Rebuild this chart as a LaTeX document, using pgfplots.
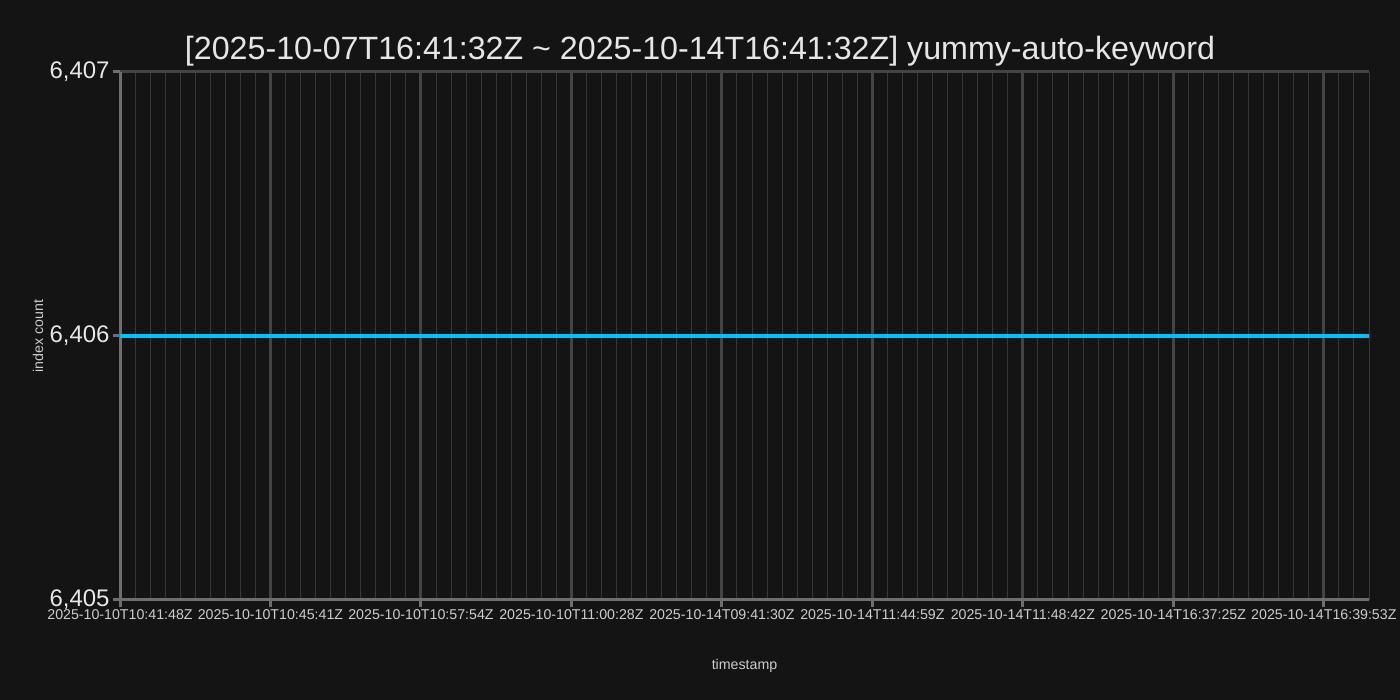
\documentclass[border=0pt]{standalone}
\usepackage{pgfplots}
\pgfplotsset{compat=1.18}
\usepackage{fontspec}
\setmainfont{Liberation Sans}
\definecolor{bg}{HTML}{141414}
\definecolor{axisgrey}{HTML}{6E6E6E}
\definecolor{majgrid}{HTML}{444444}
\definecolor{mingrid}{HTML}{383838}
\definecolor{cyanline}{HTML}{00BFFF}
\definecolor{txt}{HTML}{E6E6E6}
\definecolor{lbl}{HTML}{CCCCCC}
\begin{document}
\begin{tikzpicture}
\fill[bg] (0,0) rectangle (700pt,350pt);
\begin{axis}[
  at={(60pt,50pt)}, anchor=south west,
  scale only axis, width=624.5pt, height=264pt,
  xmin=0, xmax=83, ymin=6405, ymax=6407,
  axis x line*=bottom, axis y line*=left,
  axis line style={draw=axisgrey, line width=1.5pt},
  xtick={0,10,...,80},
  xticklabels={2025-10-10T10:41:48Z,2025-10-10T10:45:41Z,2025-10-10T10:57:54Z,2025-10-10T11:00:28Z,2025-10-14T09:41:30Z,2025-10-14T11:44:59Z,2025-10-14T11:48:42Z,2025-10-14T16:37:25Z,2025-10-14T16:39:53Z},
  minor xtick={0,1,...,83},
  ytick={6405,6406,6407},
  /pgf/number format/assume math mode=true,
  /pgf/number format/1000 sep={,},
  xmajorgrids, xminorgrids, ymajorgrids,
  major grid style={draw=majgrid, line width=1.5pt},
  minor grid style={draw=mingrid, line width=0.5pt},
  tick align=outside, major tick length=3.5pt, minor tick length=0pt,
  tick style={draw=axisgrey, line width=1.5pt},
  xticklabel style={font=\fontsize{7.1pt}{8pt}\selectfont, text=lbl, inner sep=1pt},
  yticklabel style={font=\fontsize{12pt}{13pt}\selectfont, text=txt, inner sep=1.5pt},
  title={[2025-10-07T16:41:32Z \textasciitilde{} 2025-10-14T16:41:32Z] yummy-auto-keyword},
  title style={at={(axis description cs:0.4644,1.0171)}, anchor=center, font=\fontsize{16.1pt}{18pt}\selectfont, text=txt},
  xlabel={timestamp},
  xlabel style={at={(axis description cs:0.5,-0.125)}, anchor=center, font=\fontsize{7.1pt}{8pt}\selectfont, text=lbl},
  ylabel={index count},
  ylabel style={at={(axis description cs:-0.0657,0.5)}, anchor=center, font=\fontsize{7.1pt}{8pt}\selectfont, text=lbl},
]
\addplot[cyanline, line width=2pt, mark=none] coordinates {
(0,6406) (1,6406) (2,6406) (3,6406) (4,6406) (5,6406) (6,6406) (7,6406) (8,6406) (9,6406)
(10,6406) (11,6406) (12,6406) (13,6406) (14,6406) (15,6406) (16,6406) (17,6406) (18,6406) (19,6406)
(20,6406) (21,6406) (22,6406) (23,6406) (24,6406) (25,6406) (26,6406) (27,6406) (28,6406) (29,6406)
(30,6406) (31,6406) (32,6406) (33,6406) (34,6406) (35,6406) (36,6406) (37,6406) (38,6406) (39,6406)
(40,6406) (41,6406) (42,6406) (43,6406) (44,6406) (45,6406) (46,6406) (47,6406) (48,6406) (49,6406)
(50,6406) (51,6406) (52,6406) (53,6406) (54,6406) (55,6406) (56,6406) (57,6406) (58,6406) (59,6406)
(60,6406) (61,6406) (62,6406) (63,6406) (64,6406) (65,6406) (66,6406) (67,6406) (68,6406) (69,6406)
(70,6406) (71,6406) (72,6406) (73,6406) (74,6406) (75,6406) (76,6406) (77,6406) (78,6406) (79,6406)
(80,6406) (81,6406) (82,6406) (83,6406)
};
\end{axis}
\pgfresetboundingbox
\useasboundingbox (0,0) rectangle (700pt,350pt);
\end{tikzpicture}
\end{document}
